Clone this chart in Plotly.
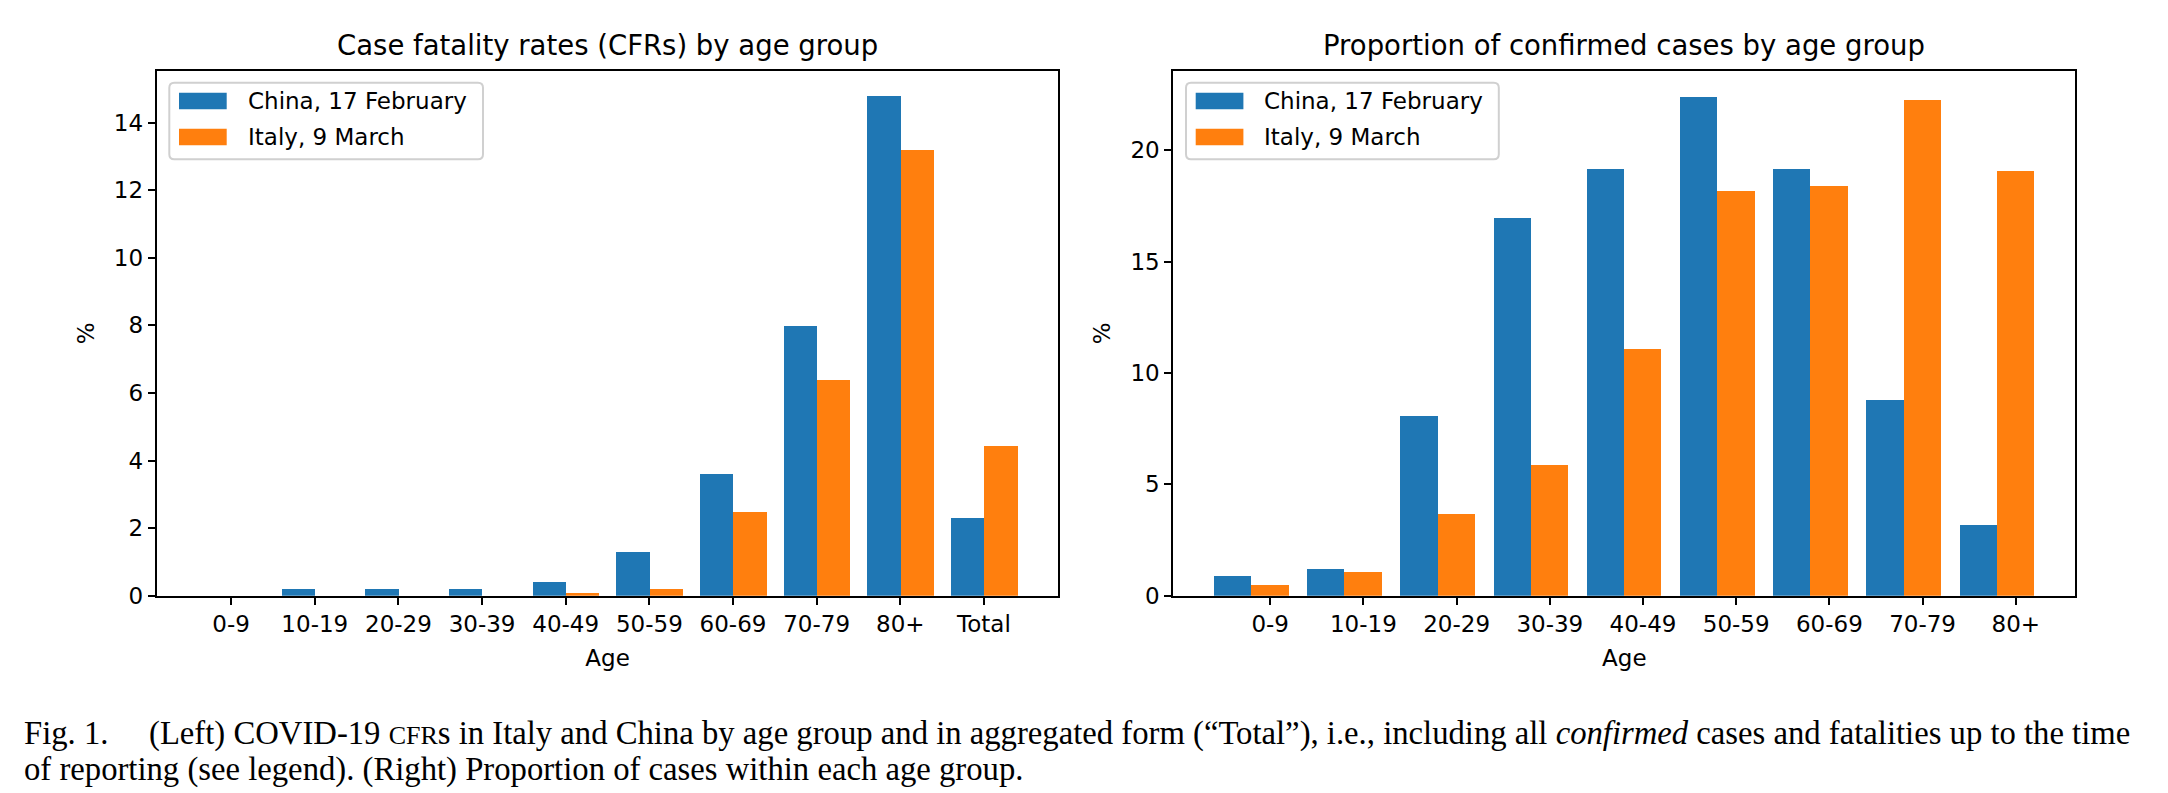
import plotly.graph_objects as go

W, H = 2168, 793

# ---------------- data ----------------
age_left = ["0-9", "10-19", "20-29", "30-39", "40-49", "50-59", "60-69", "70-79", "80+", "Total"]
cfr_china = [0.0, 0.2, 0.2, 0.2, 0.4, 1.3, 3.6, 8.0, 14.8, 2.3]
cfr_italy = [0.0, 0.0, 0.0, 0.0, 0.1, 0.2, 2.5, 6.4, 13.2, 4.45]

age_right = ["0-9", "10-19", "20-29", "30-39", "40-49", "50-59", "60-69", "70-79", "80+"]
prop_china = [0.9, 1.2, 8.1, 17.0, 19.2, 22.4, 19.2, 8.8, 3.2]
prop_italy = [0.5, 1.1, 3.7, 5.9, 11.1, 18.2, 18.4, 22.3, 19.1]

series_names = ["China, 17 February", "Italy, 9 March"]
colors = ["#1f77b4", "#ff7f0e"]

left_ticks = [0, 2, 4, 6, 8, 10, 12, 14]
right_ticks = [0, 5, 10, 15, 20]

# ---------------- layout helpers ----------------
def px_x(p):
    return p / W

def px_y(p):
    return 1 - p / H

AX_TOP, AX_BOT = 70.7, 595.7
L_LEFT, L_RIGHT = 156.7, 1058.4
R_LEFT, R_RIGHT = 1173.3, 2075.4

FONT = "DejaVu Sans"
TICK_SIZE = 23
TITLE_SIZE = 27.5

fig = go.Figure()

bw = 0.4
nl = len(age_left)
nr = len(age_right)

# left chart: bars either side of the tick
fig.add_trace(go.Bar(x=[i - bw / 2 for i in range(nl)], y=cfr_china, width=bw,
                     marker=dict(color=colors[0], line=dict(width=0)),
                     name=series_names[0], xaxis="x", yaxis="y", showlegend=False))
fig.add_trace(go.Bar(x=[i + bw / 2 for i in range(nl)], y=cfr_italy, width=bw,
                     marker=dict(color=colors[1], line=dict(width=0)),
                     name=series_names[1], xaxis="x", yaxis="y", showlegend=False))

# right chart: tick sits under the Italy bar
fig.add_trace(go.Bar(x=[i - bw for i in range(nr)], y=prop_china, width=bw,
                     marker=dict(color=colors[0], line=dict(width=0)),
                     name=series_names[0], xaxis="x2", yaxis="y2", showlegend=False))
fig.add_trace(go.Bar(x=[i for i in range(nr)], y=prop_italy, width=bw,
                     marker=dict(color=colors[1], line=dict(width=0)),
                     name=series_names[1], xaxis="x2", yaxis="y2", showlegend=False))

axis_common = dict(
    showline=True, linecolor="black", linewidth=2, mirror=True,
    ticks="outside", ticklen=7, tickwidth=1.6, tickcolor="black",
    showgrid=False, zeroline=False,
    tickfont=dict(family=FONT, size=TICK_SIZE, color="black"),
    automargin=False,
)

fig.update_layout(
    width=W, height=H,
    margin=dict(l=0, r=0, t=0, b=0),
    paper_bgcolor="white", plot_bgcolor="white",
    barmode="overlay",
    bargap=0,
    font=dict(family=FONT, size=TICK_SIZE, color="black"),
    xaxis=dict(domain=[px_x(L_LEFT), px_x(L_RIGHT)], range=[-0.89, 9.89],
               tickmode="array", tickvals=list(range(nl)), ticktext=age_left,
               title=dict(text="Age", font=dict(family=FONT, size=TICK_SIZE), standoff=14),
               anchor="y", **axis_common),
    yaxis=dict(domain=[px_y(AX_BOT), px_y(AX_TOP)], range=[0, 15.54],
               tickmode="array", tickvals=left_ticks,
               title=dict(text="%", font=dict(family=FONT, size=TICK_SIZE), standoff=13),
               anchor="x", **axis_common),
    xaxis2=dict(domain=[px_x(R_LEFT), px_x(R_RIGHT)], range=[-1.04, 8.64],
                tickmode="array", tickvals=list(range(nr)), ticktext=age_right,
                title=dict(text="Age", font=dict(family=FONT, size=TICK_SIZE), standoff=14),
                anchor="y2", **axis_common),
    yaxis2=dict(domain=[px_y(AX_BOT), px_y(AX_TOP)], range=[0, 23.58],
                tickmode="array", tickvals=right_ticks,
                title=dict(text="%", font=dict(family=FONT, size=TICK_SIZE), standoff=13),
                anchor="x2", **axis_common),
    showlegend=False,
)

annotations = [
    dict(text="Case fatality rates (CFRs) by age group", x=px_x((L_LEFT + L_RIGHT) / 2), y=px_y(45),
         xref="paper", yref="paper", xanchor="center", yanchor="middle", showarrow=False,
         font=dict(family=FONT, size=TITLE_SIZE, color="black")),
    dict(text="Proportion of confirmed cases by age group", x=px_x((R_LEFT + R_RIGHT) / 2), y=px_y(45),
         xref="paper", yref="paper", xanchor="center", yanchor="middle", showarrow=False,
         font=dict(family=FONT, size=TITLE_SIZE, color="black")),
]

# ---------------- legends (matplotlib style boxes) ----------------
shapes = []

def rounded_rect(x0, y0, x1, y1, r):
    # pixel coords -> paper coords path with rounded corners
    def P(x, y):
        return f"{px_x(x)},{px_y(y)}"
    return (f"M {P(x0 + r, y0)} L {P(x1 - r, y0)} Q {P(x1, y0)} {P(x1, y0 + r)} "
            f"L {P(x1, y1 - r)} Q {P(x1, y1)} {P(x1 - r, y1)} "
            f"L {P(x0 + r, y1)} Q {P(x0, y1)} {P(x0, y1 - r)} "
            f"L {P(x0, y0 + r)} Q {P(x0, y0)} {P(x0 + r, y0)} Z")

for box_left, box_right in [(169.3, 483.0), (1186.0, 1498.8)]:
    shapes.append(dict(type="path", xref="paper", yref="paper",
                       path=rounded_rect(box_left, 82.7, box_right, 159.3, 5),
                       fillcolor="rgba(255,255,255,0.8)", line=dict(color="#d0d0d0", width=2),
                       layer="above"))
    patch_x0 = box_left + 9.7
    for k, (yc, name, col) in enumerate(zip([101.0, 137.0], series_names, colors)):
        shapes.append(dict(type="rect", xref="paper", yref="paper",
                           x0=px_x(patch_x0), x1=px_x(patch_x0 + 47.7),
                           y0=px_y(yc - 8.3), y1=px_y(yc + 8.3),
                           fillcolor=col, line=dict(width=0), layer="above"))
        annotations.append(dict(text=name, x=px_x(box_left + 76.4), y=px_y(yc),
                                xref="paper", yref="paper", xanchor="left", yanchor="middle",
                                showarrow=False,
                                font=dict(family=FONT, size=TICK_SIZE, color="black")))

CAP_FONT = "Liberation Serif"
CAP_SIZE = 32.7
annotations += [
    dict(text="Fig. 1.", x=px_x(22), y=px_y(733), xref="paper", yref="paper",
         xanchor="left", yanchor="middle", showarrow=False,
         font=dict(family=CAP_FONT, size=CAP_SIZE, color="black")),
    dict(text="(Left) COVID-19 <span style='font-size:26px'>CFR</span>s in Italy and China by age group and in aggregated form (\u201cTotal\u201d), i.e., including all <i>confirmed</i> cases and fatalities up to the time",
         x=px_x(147), y=px_y(733), xref="paper", yref="paper",
         xanchor="left", yanchor="middle", showarrow=False,
         font=dict(family=CAP_FONT, size=CAP_SIZE, color="black")),
    dict(text="of reporting (see legend). (Right) Proportion of cases within each age group.",
         x=px_x(22), y=px_y(769), xref="paper", yref="paper",
         xanchor="left", yanchor="middle", showarrow=False,
         font=dict(family=CAP_FONT, size=CAP_SIZE, color="black")),
]
fig.update_layout(annotations=annotations, shapes=shapes)

fig.write_html("out.html", config={"displayModeBar": False},
               post_script="document.body.style.margin='0px';")
